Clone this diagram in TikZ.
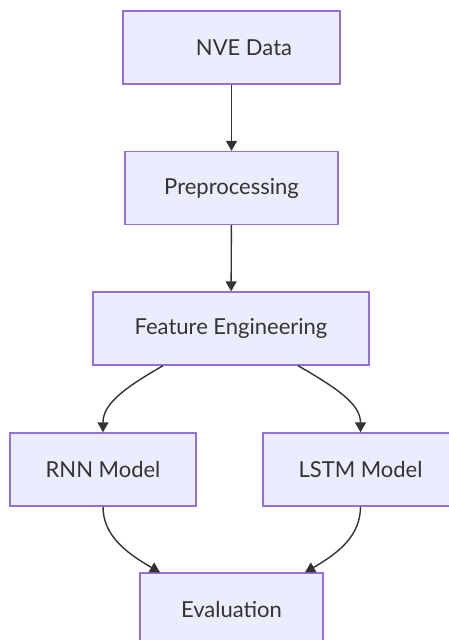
\documentclass[tikz,border=0pt]{standalone}
\usepackage{fontspec}
\setmainfont{Lato}
\usetikzlibrary{arrows.meta}
\definecolor{boxfill}{HTML}{ECECFF}
\definecolor{boxline}{HTML}{9370DB}
\definecolor{ink}{HTML}{333333}
\begin{document}
\begin{tikzpicture}[x=1pt, y=-1pt,
    stage/.style={draw=boxline, fill=boxfill, line width=1.4pt, minimum height=73pt,
      inner sep=0pt, text=ink, font=\fontsize{22}{26}\selectfont},
    flow/.style={draw=ink, line width=1.4pt, -{Triangle[length=10pt,width=11pt]}}]
    \clip (0,0) rectangle (449,640);
    % Pipeline stages
    \node[stage, minimum width=217pt] (nve)  at (231.5,47.5)  {\hspace*{25pt}NVE Data};
    \node[stage, minimum width=213pt] (pre)  at (231.5,188)   {Preprocessing};
    \node[stage, minimum width=276pt] (fe)   at (231,328.5)   {Feature Engineering};
    \node[stage, minimum width=186pt] (rnn)  at (103,469.5)   {RNN Model};
    \node[stage, minimum width=195pt] (lstm) at (360.5,469.5) {LSTM Model};
    \node[stage, minimum width=183pt] (eval) at (231.5,609.5) {Evaluation};
    % Straight links down the middle
    \draw[flow] (nve) -- (pre);
    \draw[flow] (pre) -- (fe);
    % Split into the two models
    \draw[flow] ([xshift=-68pt]fe.south) .. controls +(-40,23) and +(0,-28) .. (rnn.north);
    \draw[flow] ([xshift=67pt]fe.south) .. controls +(40,23) and +(0,-28) .. (lstm.north);
    % Both models feed the evaluation
    \draw[flow] (rnn.south) .. controls +(0,28) and +(-35,-20) .. ([xshift=-71.5pt]eval.north);
    \draw[flow] (lstm.south) .. controls +(0,28) and +(35,-20) .. ([xshift=73.5pt]eval.north);
\end{tikzpicture}
\end{document}
